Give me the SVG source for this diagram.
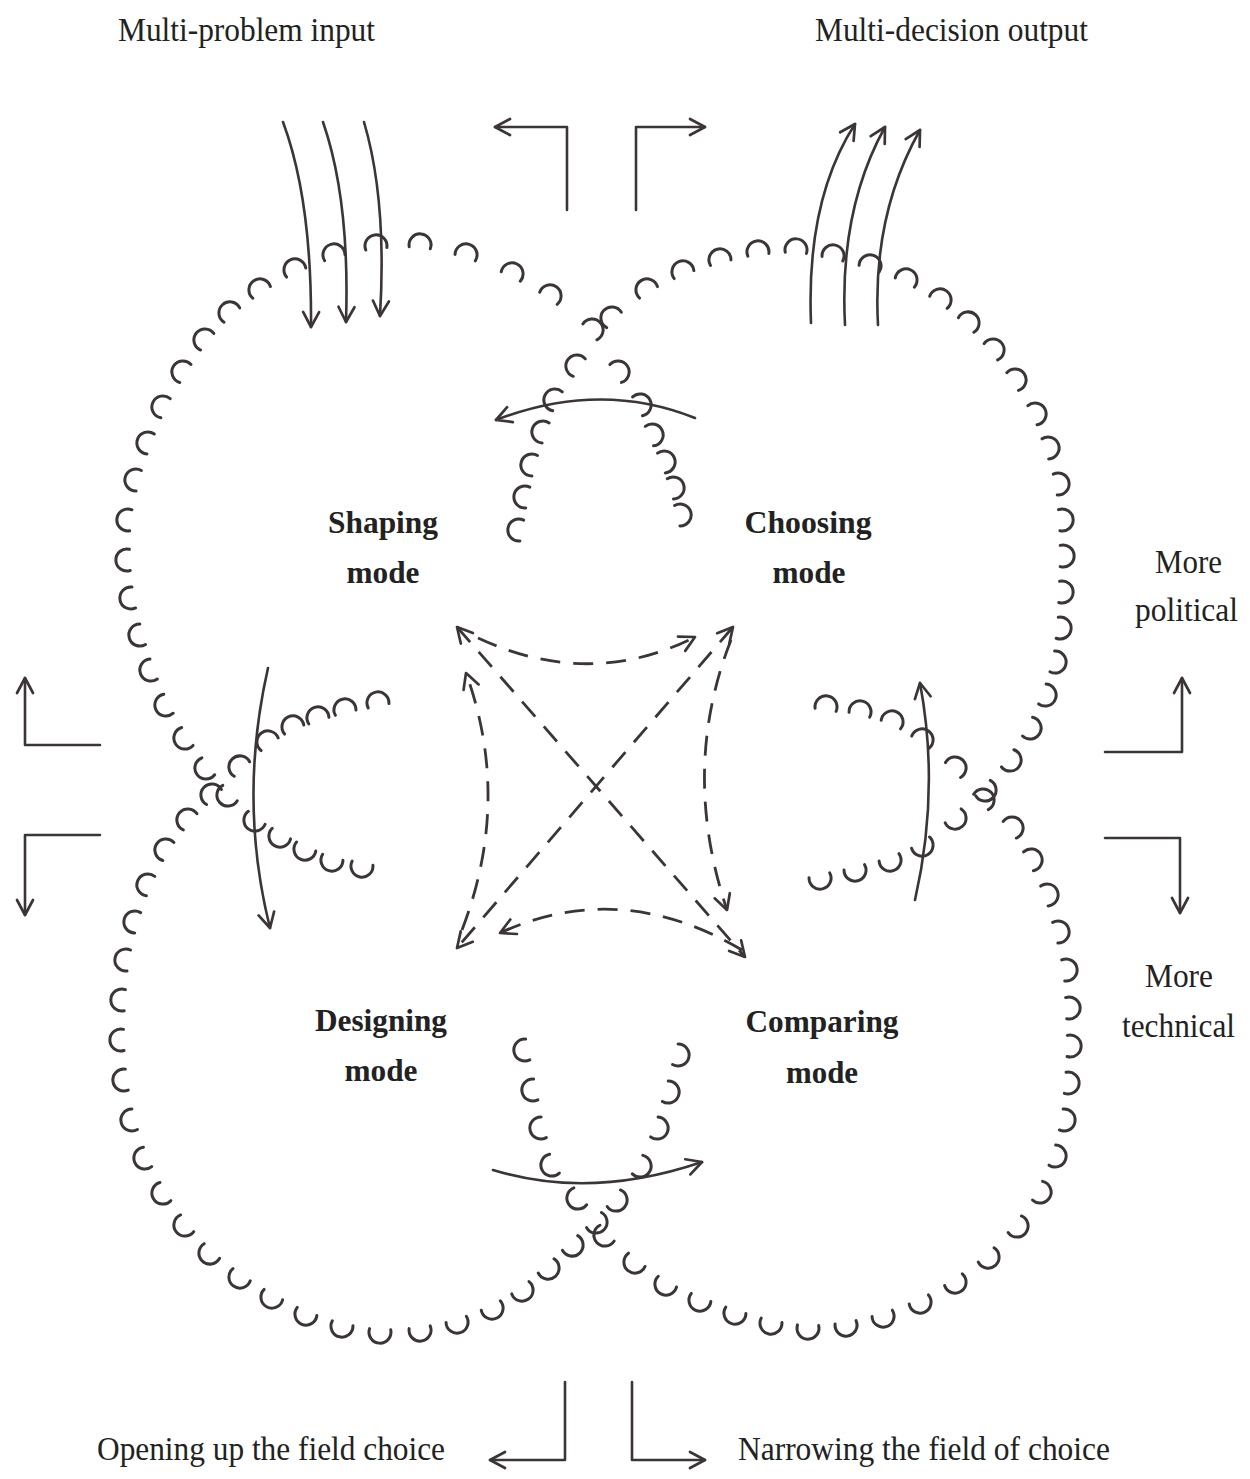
<svg xmlns="http://www.w3.org/2000/svg" width="1250" height="1479" viewBox="0 0 1250 1479">
<style>
.ln{fill:none;stroke:#3b3538;stroke-width:2.6;stroke-linecap:round;stroke-linejoin:round}
.ar{marker-end:url(#ah)}
.dash{fill:none;stroke:#3b3538;stroke-width:2.8;stroke-dasharray:20 13}
.cloud{fill:none;stroke:none;marker-start:url(#sc);marker-mid:url(#sc);marker-end:url(#sc)}
.lbl{font-family:"Liberation Serif","Times New Roman",serif;font-size:34px;fill:#222}
.mode{font-family:"Liberation Serif","Times New Roman",serif;font-size:32px;font-weight:bold;fill:#222;text-anchor:middle}
</style>
<defs>
<marker id="sc" markerUnits="userSpaceOnUse" viewBox="-16 -16 32 32" markerWidth="32" markerHeight="32" refX="0" refY="0" orient="auto" overflow="visible">
<path d="M -10.6 -2.8 A 11 11 0 1 0 10.6 -2.8" fill="none" stroke="#3b3538" stroke-width="3" stroke-linecap="round"/>
</marker>
<marker id="ah" markerUnits="userSpaceOnUse" viewBox="-20 -12 24 24" markerWidth="24" markerHeight="24" refX="0" refY="0" orient="auto-start-reverse" overflow="visible">
<path d="M -15 -8 L 0 0 L -15 8" fill="none" stroke="#3b3538" stroke-width="2.7" stroke-linecap="round" stroke-linejoin="round"/>
</marker>
</defs>
<rect width="1250" height="1479" fill="#fff"/>

<g id="shaping">
<path class="cloud" d="M680,515 L673,488 664,462 652,435 640,405 618,372 592,330 550,296 512,274 466,255 420,245 376,246 334,255 295,270 260,290 230,313 205,340 183,372 163,407 148,443 136,480 128,520 127,560 131,598 140,635 151,670 166,705 185,738 206,768 228,795 255,820 280,836 305,849 332,860 362,866"/>
<text class="mode" x="383" y="533" textLength="110" lengthAdjust="spacingAndGlyphs">Shaping</text>
<text class="mode" x="383" y="583" textLength="73" lengthAdjust="spacingAndGlyphs">mode</text>
</g>
<g id="choosing">
<path class="cloud" d="M820,878 L855,870 890,860 922,845 955,818 985,790 1010,760 1030,728 1045,695 1055,662 1060,628 1062,592 1063,556 1062,520 1058,484 1048,448 1035,414 1015,380 993,350 968,323 940,300 906,280 870,266 833,256 796,250 758,252 720,260 683,272 647,290 612,318 577,366 555,400 543,432 532,465 525,497 519,530"/>
<text class="mode" x="808" y="533" textLength="127" lengthAdjust="spacingAndGlyphs">Choosing</text>
<text class="mode" x="809" y="583" textLength="73" lengthAdjust="spacingAndGlyphs">mode</text>
</g>
<g id="designing">
<path class="cloud" d="M378,703 L345,710 318,718 293,727 268,742 240,767 212,795 188,820 166,850 148,885 135,922 126,960 122,1000 121,1040 124,1080 132,1120 145,1158 163,1193 185,1225 210,1253 240,1277 272,1297 306,1314 342,1326 380,1332 420,1330 457,1322 492,1308 522,1290 548,1268 572,1245 596,1222 616,1200 640,1166 657,1128 668,1092 678,1055"/>
<text class="mode" x="381" y="1031" textLength="132" lengthAdjust="spacingAndGlyphs">Designing</text>
<text class="mode" x="381" y="1081" textLength="73" lengthAdjust="spacingAndGlyphs">mode</text>
</g>
<g id="comparing">
<path class="cloud" d="M525,1050 L533,1090 541,1128 552,1165 578,1198 605,1235 635,1262 666,1284 700,1300 735,1313 771,1323 808,1328 846,1325 883,1316 920,1302 955,1282 988,1257 1017,1226 1040,1192 1055,1156 1064,1120 1068,1083 1070,1046 1069,1008 1066,970 1058,932 1047,895 1031,860 1012,828 983,800 955,768 922,740 892,722 860,712 826,707"/>
<text class="mode" x="822" y="1032" textLength="153" lengthAdjust="spacingAndGlyphs">Comparing</text>
<text class="mode" x="822" y="1083" textLength="72" lengthAdjust="spacingAndGlyphs">mode</text>
</g>

<g id="labels">
<text class="lbl" x="118" y="41" textLength="257" lengthAdjust="spacingAndGlyphs">Multi-problem input</text>
<text class="lbl" x="815" y="41" textLength="273" lengthAdjust="spacingAndGlyphs">Multi-decision output</text>
<text class="lbl" x="1155" y="573" textLength="67" lengthAdjust="spacingAndGlyphs">More</text>
<text class="lbl" x="1135" y="621" textLength="103" lengthAdjust="spacingAndGlyphs">political</text>
<text class="lbl" x="1145" y="987" textLength="68" lengthAdjust="spacingAndGlyphs">More</text>
<text class="lbl" x="1122" y="1037" textLength="113" lengthAdjust="spacingAndGlyphs">technical</text>
<text class="lbl" x="97" y="1460" textLength="348" lengthAdjust="spacingAndGlyphs">Opening up the field choice</text>
<text class="lbl" x="738" y="1460" textLength="372" lengthAdjust="spacingAndGlyphs">Narrowing the field of choice</text>
</g>

<g id="connectors">
<path class="ln ar" d="M283,122 Q312,200 311,327"/>
<path class="ln ar" d="M323,122 Q350,200 346,322"/>
<path class="ln ar" d="M364,122 Q387,200 380,316"/>
<path class="ln ar" d="M811,323 Q806,200 855,124"/>
<path class="ln ar" d="M845,325 Q839,210 885,127"/>
<path class="ln ar" d="M878,325 Q872,215 920,130"/>
<path class="ln ar" d="M567,210 L567,127 L495,127"/>
<path class="ln ar" d="M636,210 L636,127 L705,127"/>
<path class="ln ar" d="M100,745 L25,745 L25,678"/>
<path class="ln ar" d="M100,835 L25,835 L25,915"/>
<path class="ln ar" d="M1105,752 L1182,752 L1182,678"/>
<path class="ln ar" d="M1105,838 L1180,838 L1180,913"/>
<path class="ln ar" d="M565,1382 L565,1460 L490,1460"/>
<path class="ln ar" d="M632,1382 L632,1460 L705,1460"/>
<path class="ln ar" d="M695,418 Q600,380 496,420"/>
<path class="ln ar" d="M268,668 Q238,800 270,928"/>
<path class="ln ar" d="M915,900 Q940,790 920,683"/>
<path class="ln ar" d="M493,1170 Q590,1200 702,1162"/>
<path class="dash" d="M478,638 Q590,690 695,637" marker-end="url(#ah)"/>
<path class="dash" d="M742,950 Q620,878 500,933" marker-end="url(#ah)"/>
<path class="dash" d="M462,930 Q512,800 466,673" marker-end="url(#ah)"/>
<path class="dash" d="M731,640 Q680,770 727,910" marker-end="url(#ah)"/>
<path class="dash" d="M457,627 L745,957" marker-start="url(#ah)" marker-end="url(#ah)"/>
<path class="dash" d="M733,627 L457,948" marker-start="url(#ah)" marker-end="url(#ah)"/>
</g>
</svg>
